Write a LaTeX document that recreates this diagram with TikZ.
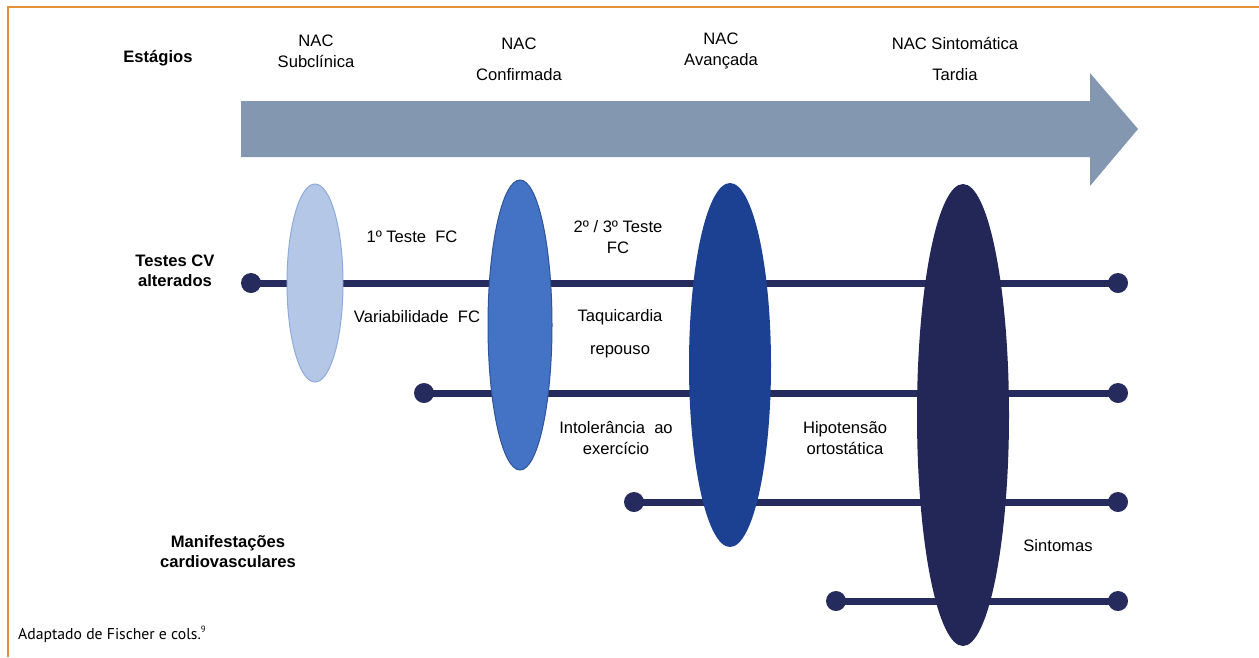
\documentclass[tikz,border=0pt]{standalone}
\usepackage{fontspec}
\setmainfont{Liberation Sans}
\newfontfamily\capfont{PT Sans}
\usetikzlibrary{shapes.geometric}
\definecolor{frameor}{HTML}{E3923A}
\definecolor{arrowc}{HTML}{8497B0}
\definecolor{ellA}{HTML}{B4C7E7}
\definecolor{ellAd}{HTML}{8FAADC}
\definecolor{ellB}{HTML}{4472C4}
\definecolor{ellBd}{HTML}{2F5597}
\definecolor{ellC}{HTML}{1D4192}
\definecolor{ellD}{HTML}{232757}
\definecolor{linec}{HTML}{252B5C}
\begin{document}
\begin{tikzpicture}[x=1pt,y=-1pt,
  lbl/.style={font=\fontsize{16.6}{21}\selectfont, align=center, inner sep=0pt, yshift=-2pt},
  lblwide/.style={font=\fontsize{16.6}{31}\selectfont, align=center, inner sep=0pt, yshift=-2pt},
  blbl/.style={font=\fontsize{16.6}{20}\selectfont\bfseries, align=center, inner sep=0pt, yshift=-2pt},
  dotn/.style={circle, fill=linec, minimum size=20pt, inner sep=0pt},
  bar/.style={draw=linec, line width=7pt},
  lens/.style={ellipse, inner sep=0pt}]
\useasboundingbox (0,0) rectangle (1259,657);
\fill[white] (0,0) rectangle (1259,657);
% frame
\draw[frameor, line width=2.5pt] (8,657) -- (8,7) -- (1259,7);
% big arrow
\fill[arrowc] (241,101) -- (1090,101) -- (1090,73) -- (1138,129) -- (1090,186) -- (1090,157) -- (241,157) -- cycle;
% bars with dots
\node[dotn] (l1) at (251,283) {};
\node[dotn] (r1) at (1118,283) {};
\node[dotn] (l2) at (424,393) {};
\node[dotn] (r2) at (1118,393) {};
\node[dotn] (l3) at (634,502) {};
\node[dotn] (r3) at (1118,502) {};
\node[dotn] (l4) at (836,601) {};
\node[dotn] (r4) at (1118,601) {};
\draw[bar] (l1.center) -- (r1.center);
\draw[bar] (l2.center) -- (r2.center);
\draw[bar] (l3.center) -- (r3.center);
\draw[bar] (l4.center) -- (r4.center);
% lenses
\node[lens, fill=ellA, draw=ellAd, line width=1pt, minimum width=56pt, minimum height=198pt] (e1) at (315,283) {};
\node[lens, fill=ellB, draw=ellBd, line width=1pt, minimum width=64pt, minimum height=290pt] (e2) at (520,325) {};
\node[lens, fill=ellC, minimum width=82pt, minimum height=364pt] (e3) at (730,365) {};
\node[lens, fill=ellD, minimum width=92pt, minimum height=462pt] (e4) at (963,415) {};
% labels
\node[blbl] (est) at (158,56) {Estágios};
\node[lbl] (s1) at (316,49) {NAC\\Subclínica};
\node[lblwide] (s2) at (519,57) {NAC\\Confirmada};
\node[lbl] (s3) at (721,49) {NAC\\Avançada};
\node[lblwide] (s4) at (955,57) {NAC Sintomática\\Tardia};
\node[blbl] (tcv) at (175,269) {Testes CV\\alterados};
\node[blbl] (man) at (228,550) {Manifestações\\cardiovasculares};
\node[lbl] (t1) at (412,235) {1º Teste\ \ FC};
\node[lbl] (t2) at (417,315) {Variabilidade\ \ FC};
\node[lbl] (t3) at (618,235) {2º / 3º Teste\\FC};
\node[lbl] (t4) at (620,315) {Taquicardia};
\node[lbl] (t5) at (620,350) {repouso};
\node[lbl] (t6) at (616,436) {Intolerância\ \ ao\\exercício};
\node[lbl] (t7) at (845,436) {Hipotensão\\ortostática};
\node[lbl] (t8) at (1058,544) {Sintomas};
\node[anchor=west, inner sep=0pt, font=\capfont\fontsize{15.7}{18}\selectfont] (cap) at (18,634) {Adaptado de Fischer e cols.\raisebox{0.45em}{\fontsize{9}{10}\selectfont 9}};
\end{tikzpicture}
\end{document}
